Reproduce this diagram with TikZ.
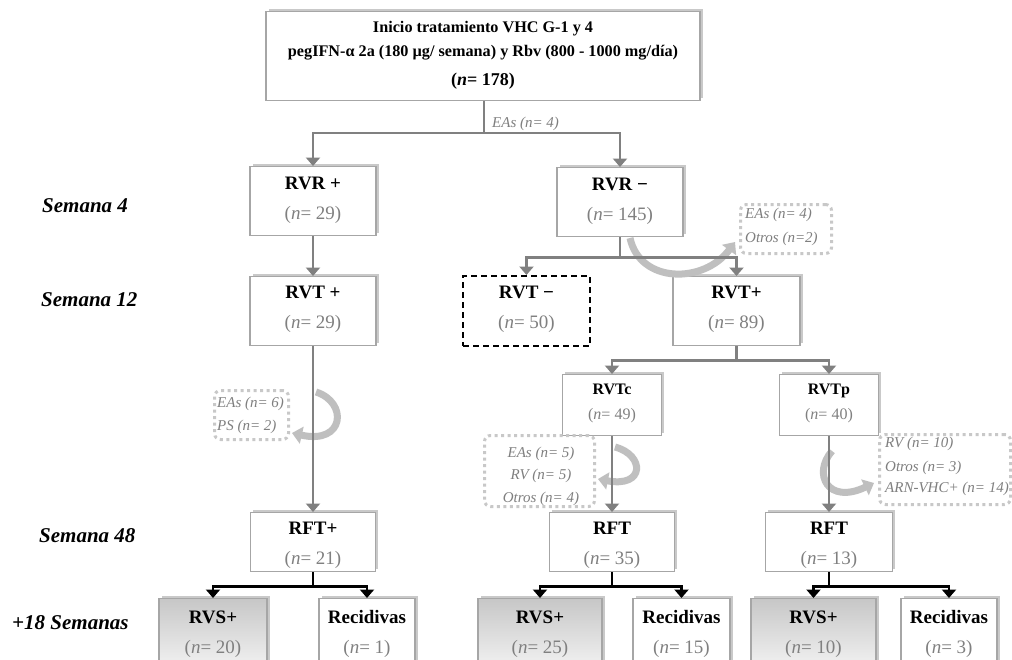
\documentclass[tikz,border=0pt]{standalone}
\usepackage{fontspec}
\setmainfont{Liberation Serif}
\usetikzlibrary{arrows.meta,shadows,calc}
\definecolor{numgray}{HTML}{808080}
\definecolor{lblgray}{HTML}{7F7F7F}
\definecolor{linegray}{HTML}{808080}
\definecolor{boxborder}{HTML}{A6A6A6}
\definecolor{dotgray}{HTML}{C8C8C8}
\tikzset{
  box/.style={draw=boxborder, line width=1.4pt, fill=white, inner sep=0pt, anchor=north,
    drop shadow={shadow xshift=2.5pt, shadow yshift=2.5pt, opacity=0.35, fill=black!60}},
  dbox/.style={draw=black, line width=2pt, dash pattern=on 6pt off 4pt, fill=white, inner sep=0pt, anchor=north},
  gbox/.style={box, top color=black!22, bottom color=black!5},
  dotbox/.style={draw=dotgray, line width=3pt, dash pattern=on 3pt off 3.5pt, rounded corners=6pt, inner sep=0pt, anchor=north west},
  title/.style={anchor=base, inner sep=0pt, font=\fontsize{19}{19}\selectfont\bfseries},
  num/.style={anchor=base, inner sep=0pt, text=numgray, font=\fontsize{19}{19}\selectfont},
  stitle/.style={anchor=base, inner sep=0pt, font=\fontsize{16}{16}\selectfont\bfseries},
  snum/.style={anchor=base, inner sep=0pt, text=numgray, font=\fontsize{16}{16}\selectfont},
  lbl/.style={anchor=base west, inner sep=0pt, text=lblgray, font=\fontsize{15}{15}\selectfont\itshape},
  clbl/.style={anchor=base, inner sep=0pt, text=lblgray, font=\fontsize{15}{15}\selectfont\itshape},
  week/.style={anchor=base west, inner sep=0pt, font=\fontsize{21}{21}\selectfont\bfseries\itshape},
  toptext/.style={anchor=base, inner sep=0pt, font=\fontsize{16.2}{16.2}\selectfont\bfseries},
  gline/.style={draw=linegray, line width=2.6pt},
  garrow/.style={gline, -{Triangle[width=14pt,length=8.5pt]}},
  barrow/.style={draw=black, line width=2.6pt, -{Triangle[width=14pt,length=8.5pt]}},
  curv/.style={draw=black!25, line width=7pt, -{Triangle[width=17pt,length=10pt]}},
}
\begin{document}
\begin{tikzpicture}[x=1pt,y=-1pt]
\useasboundingbox (0,0) rectangle (1012,659);
\fill[white] (0,0) rectangle (1012,659);

% week labels
\node[week] (w4) at (42,212) {Semana 4};
\node[week] (w12) at (41,306) {Semana 12};
\node[week] (w48) at (39,542) {Semana 48};
\node[week] (w18) at (12,629) {+18 Semanas};

% top box
\node[box, minimum width=434pt, minimum height=89pt] (top) at (483,11) {};
\node[toptext] (topA) at ([yshift=-21pt]top.north) {Inicio tratamiento VHC G-1 y 4};
\node[toptext] (topB) at ([yshift=-45pt]top.north) {pegIFN-α 2a (180 µg/ semana) y Rbv (800 - 1000 mg/día)};
\node[anchor=base, inner sep=0pt, font=\fontsize{18}{18}\selectfont\bfseries] (topC) at ([yshift=-74pt]top.north) {(\textit{n}= 178)};

% Semana 4
\node[box, minimum width=126pt, minimum height=69pt] (rvrp) at (313,166) {};
\node[title] (rvrpA) at ([yshift=-23pt]rvrp.north) {RVR +};
\node[num] (rvrpB) at ([yshift=-53pt]rvrp.north) {(\textit{n}= 29)};
\node[box, minimum width=126pt, minimum height=69pt] (rvrm) at (620,167) {};
\node[title] (rvrmA) at ([yshift=-23pt]rvrm.north) {RVR −};
\node[num] (rvrmB) at ([yshift=-53pt]rvrm.north) {(\textit{n}= 145)};

% Semana 12
\node[box, minimum width=126pt, minimum height=69pt] (rvtp1) at (313,276) {};
\node[title] (rvtp1A) at ([yshift=-22pt]rvtp1.north) {RVT +};
\node[num] (rvtp1B) at ([yshift=-52pt]rvtp1.north) {(\textit{n}= 29)};
\node[dbox, minimum width=127pt, minimum height=70pt] (rvtm) at (526.5,275) {};
\node[title] (rvtmA) at ([yshift=-23pt]rvtm.north) {RVT −};
\node[num] (rvtmB) at ([yshift=-53pt]rvtm.north) {(\textit{n}= 50)};
\node[box, minimum width=127pt, minimum height=69pt] (rvtp2) at (736.5,276) {};
\node[title] (rvtp2A) at ([yshift=-22pt]rvtp2.north) {RVT+};
\node[num] (rvtp2B) at ([yshift=-52pt]rvtp2.north) {(\textit{n}= 89)};

% RVTc / RVTp
\node[box, minimum width=99pt, minimum height=61pt] (rvtc) at (612,374) {};
\node[stitle] (rvtcA) at ([yshift=-20pt]rvtc.north) {RVTc};
\node[snum] (rvtcB) at ([yshift=-45pt]rvtc.north) {(\textit{n}= 49)};
\node[box, minimum width=99pt, minimum height=61pt] (rvtq) at (829,374) {};
\node[stitle] (rvtqA) at ([yshift=-20pt]rvtq.north) {RVTp};
\node[snum] (rvtqB) at ([yshift=-45pt]rvtq.north) {(\textit{n}= 40)};

% Semana 48
\node[box, minimum width=125pt, minimum height=59pt] (rft1) at (313,512) {};
\node[title] (rft1A) at ([yshift=-22pt]rft1.north) {RFT+};
\node[num] (rft1B) at ([yshift=-52pt]rft1.north) {(\textit{n}= 21)};
\node[box, minimum width=125pt, minimum height=59pt] (rft2) at (612,512) {};
\node[title] (rft2A) at ([yshift=-22pt]rft2.north) {RFT};
\node[num] (rft2B) at ([yshift=-52pt]rft2.north) {(\textit{n}= 35)};
\node[box, minimum width=127pt, minimum height=59pt] (rft3) at (829,512) {};
\node[title] (rft3A) at ([yshift=-22pt]rft3.north) {RFT};
\node[num] (rft3B) at ([yshift=-52pt]rft3.north) {(\textit{n}= 13)};

% +18 semanas
\node[gbox, minimum width=108pt, minimum height=70pt] (rvs1) at (213,598) {};
\node[title] (rvs1A) at ([yshift=-25pt]rvs1.north) {RVS+};
\node[num] (rvs1B) at ([yshift=-55pt]rvs1.north) {(\textit{n}= 20)};
\node[box, minimum width=96pt, minimum height=70pt] (rec1) at (367,598) {};
\node[title] (rec1A) at ([yshift=-25pt]rec1.north) {Recidivas};
\node[num] (rec1B) at ([yshift=-55pt]rec1.north) {(\textit{n}= 1)};
\node[gbox, minimum width=124pt, minimum height=70pt] (rvs2) at (540,598) {};
\node[title] (rvs2A) at ([yshift=-25pt]rvs2.north) {RVS+};
\node[num] (rvs2B) at ([yshift=-55pt]rvs2.north) {(\textit{n}= 25)};
\node[box, minimum width=97pt, minimum height=70pt] (rec2) at (681.5,598) {};
\node[title] (rec2A) at ([yshift=-25pt]rec2.north) {Recidivas};
\node[num] (rec2B) at ([yshift=-55pt]rec2.north) {(\textit{n}= 15)};
\node[gbox, minimum width=125pt, minimum height=70pt] (rvs3) at (813.5,598) {};
\node[title] (rvs3A) at ([yshift=-25pt]rvs3.north) {RVS+};
\node[num] (rvs3B) at ([yshift=-55pt]rvs3.north) {(\textit{n}= 10)};
\node[box, minimum width=96pt, minimum height=70pt] (rec3) at (949,598) {};
\node[title] (rec3A) at ([yshift=-25pt]rec3.north) {Recidivas};
\node[num] (rec3B) at ([yshift=-55pt]rec3.north) {(\textit{n}= 3)};

% dotted side boxes
\node[dotbox, minimum width=91pt, minimum height=49pt] (dA) at (739,203) {};
\node[lbl] (dA1) at (745,218) {EAs (n= 4)};
\node[lbl] (dA2) at (745,242) {Otros (n=2)};
\node[dotbox, minimum width=74pt, minimum height=49pt] (dB) at (213,389) {};
\node[lbl] (dB1) at (217,407) {EAs (n= 6)};
\node[lbl] (dB2) at (217,430) {PS (n= 2)};
\node[dotbox, minimum width=110pt, minimum height=71pt] (dC) at (483,434) {};
\node[clbl] (dC1) at (541,457) {EAs (n= 5)};
\node[clbl] (dC2) at (541,479) {RV (n= 5)};
\node[clbl] (dC3) at (541,502) {Otros (n= 4)};
\node[dotbox, minimum width=131pt, minimum height=70pt] (dD) at (878,433) {};
\node[lbl] (dD1) at (885,447) {RV (n= 10)};
\node[lbl] (dD2) at (885,471) {Otros (n= 3)};
\node[lbl] (dD3) at (885,492) {ARN-VHC+ (n= 14)};

% curved exit arrows
\coordinate (cA0) at (630,238); \coordinate (cA1) at (735,242);
\draw[curv] (cA0) .. controls (640,284) and (704,284) .. (cA1);
\coordinate (cB0) at (316,392); \coordinate (cB1) at (292,433);
\draw[curv] (cB0) .. controls (348,402) and (345,445) .. (cB1);
\coordinate (cC0) at (615,447); \coordinate (cC1) at (598,479);
\draw[curv] (cC0) .. controls (645,455) and (645,488) .. (cC1);
\coordinate (cD0) at (832,451); \coordinate (cD1) at (874,483);
\draw[curv] (cD0) .. controls (812,474) and (828,505) .. (cD1);

% EAs label on top split
\node[lbl] (eas0) at (492,127) {EAs (n= 4)};

% connectors
\coordinate (j1) at (484,133);
\draw[gline] (top.south -| j1) -- (j1);
\draw[garrow] (j1) -| (rvrp.north);
\draw[garrow] (j1) -| (rvrm.north);

\coordinate (j2) at ([yshift=-20pt]rvrm.south);
\draw[gline] (rvrm.south) -- (j2);
\draw[garrow] (j2) -| (rvtm.north);
\draw[garrow] (j2) -| (rvtp2.north);

\coordinate (j3) at ([yshift=-14pt]rvtp2.south);
\draw[gline] (rvtp2.south) -- (j3);
\draw[garrow] (j3) -| (rvtc.north);
\draw[garrow] (j3) -| (rvtq.north);

\draw[garrow] (rvrp.south) -- (rvtp1.north);
\draw[garrow] (rvtp1.south) -- (rft1.north);
\draw[garrow] (rvtc.south) -- (rft2.north);
\draw[garrow] (rvtq.south) -- (rft3.north);

\coordinate (j4) at ([yshift=-14pt]rft1.south);
\draw[draw=black, line width=2.6pt] (rft1.south) -- (j4);
\draw[barrow] (j4) -| (rvs1.north);
\draw[barrow] (j4) -| (rec1.north);
\coordinate (j5) at ([yshift=-14pt]rft2.south);
\draw[draw=black, line width=2.6pt] (rft2.south) -- (j5);
\draw[barrow] (j5) -| (rvs2.north);
\draw[barrow] (j5) -| (rec2.north);
\coordinate (j6) at ([yshift=-14pt]rft3.south);
\draw[draw=black, line width=2.6pt] (rft3.south) -- (j6);
\draw[barrow] (j6) -| (rvs3.north);
\draw[barrow] (j6) -| (rec3.north);
\end{tikzpicture}
\end{document}
